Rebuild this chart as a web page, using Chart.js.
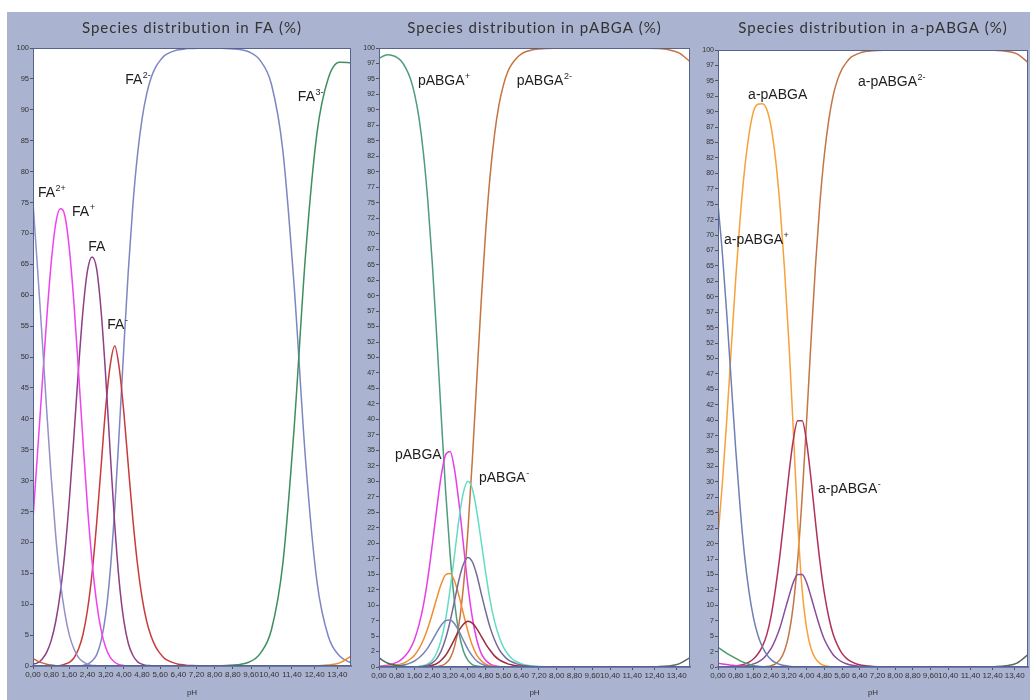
<!DOCTYPE html>
<html>
<head>
<meta charset="utf-8">
<script src="https://cdn.jsdelivr.net/npm/chart.js@4.4.0/dist/chart.umd.min.js"></script>
<style>
  body { margin: 0; width: 1030px; height: 700px; background: #fff; position: relative; overflow: hidden; }
  #frame { position: absolute; left: 7px; top: 12px; width: 1023px; height: 688px; background: #aab3cf; }
  canvas { position: absolute; top: 12px; }
</style>
</head>
<body>
<div id="frame"></div>
<canvas id="chartFA" width="348" height="688" style="left:7px"></canvas>
<canvas id="chartPABGA" width="340" height="688" style="left:355px"></canvas>
<canvas id="chartAPABGA" width="335" height="688" style="left:695px"></canvas>
<script>
// pH grid shared by all three panels
const phGrid = [
  0, 0.2, 0.4, 0.6, 0.8, 1.0, 1.2, 1.4, 1.6, 1.8,
  2.0, 2.2, 2.4, 2.6, 2.8, 3.0, 3.2, 3.4, 3.6, 3.8,
  4.0, 4.2, 4.4, 4.6, 4.8, 5.0, 5.2, 5.4, 5.6, 5.8,
  6.0, 6.2, 6.4, 6.6, 6.8, 7.0, 7.5, 8.0, 8.5, 9.0,
  9.5, 10.0, 10.5, 11.0, 11.5, 12.0, 12.5, 13.0, 13.5, 14.0
];

const xTickValues = [0, 0.8, 1.6, 2.4, 3.2, 4.0, 4.8, 5.6, 6.4, 7.2, 8.0, 8.8, 9.6, 10.4, 11.4, 12.4, 13.4];

const titles = [
  'Species distribution in FA (%)',
  'Species distribution in pABGA (%)',
  'Species distribution in a-pABGA (%)'
];

// ---- FA ----
const faH3 = [
  1.2, 0.8, 0.5, 0.3, 0.15, 0.05, 0, 0, 0, 0,
  0, 0, 0, 0, 0, 0, 0, 0, 0, 0,
  0, 0, 0, 0, 0, 0, 0, 0, 0, 0,
  0, 0, 0, 0, 0, 0, 0, 0, 0, 0,
  0, 0, 0, 0, 0, 0, 0, 0, 0, 0
];
const faH2 = [
  75.0, 64.3, 53.2, 41.5, 30.6, 21.1, 13.8, 8.6, 5.0, 2.8,
  1.4, 0.7, 0.3, 0.1, 0.05, 0, 0, 0, 0, 0,
  0, 0, 0, 0, 0, 0, 0, 0, 0, 0,
  0, 0, 0, 0, 0, 0, 0, 0, 0, 0,
  0, 0, 0, 0, 0, 0, 0, 0, 0, 0
];
const faH = [
  23.8, 34.5, 45.3, 56.0, 65.2, 71.6, 74.0, 72.9, 67.5, 58.8,
  47.9, 36.4, 25.7, 16.9, 10.3, 5.8, 3.0, 1.4, 0.6, 0.2,
  0.1, 0, 0, 0, 0, 0, 0, 0, 0, 0,
  0, 0, 0, 0, 0, 0, 0, 0, 0, 0,
  0, 0, 0, 0, 0, 0, 0, 0, 0, 0
];
const fa0 = [
  0.3, 0.5, 1.1, 2.2, 4.1, 7.2, 11.8, 18.3, 26.9, 37.1,
  47.9, 57.5, 64.0, 66.2, 64.3, 57.4, 46.9, 34.5, 22.8, 13.5,
  7.3, 3.6, 1.7, 0.7, 0.3, 0.1, 0.05, 0, 0, 0,
  0, 0, 0, 0, 0, 0, 0, 0, 0, 0,
  0, 0, 0, 0, 0, 0, 0, 0, 0, 0
];
const faM = [
  0, 0, 0, 0, 0, 0, 0.1, 0.3, 0.6, 1.3,
  2.7, 5.1, 9.1, 15.0, 23.0, 32.4, 41.8, 48.7, 51.8, 48.1,
  41.0, 32.2, 23.6, 16.5, 11.1, 7.3, 4.8, 3.1, 2.0, 1.2,
  0.8, 0.5, 0.3, 0.2, 0.1, 0.1, 0, 0, 0, 0,
  0, 0, 0, 0, 0, 0, 0, 0, 0, 0
];
const faM2 = [
  0, 0, 0, 0, 0, 0, 0, 0, 0, 0,
  0, 0.1, 0.3, 0.8, 1.8, 4.1, 8.3, 15.4, 25.6, 38.2,
  51.6, 64.2, 74.7, 82.7, 88.5, 92.5, 95.2, 96.9, 98.0, 98.8,
  99.2, 99.5, 99.7, 99.8, 99.9, 99.9, 100, 100, 99.9, 99.8,
  99.4, 98.0, 94.1, 83.4, 61.3, 33.3, 13.7, 4.8, 1.6, 0.5
];
const faM3 = [
  0, 0, 0, 0, 0, 0, 0, 0, 0, 0,
  0, 0, 0, 0, 0, 0, 0, 0, 0, 0,
  0, 0, 0, 0, 0, 0, 0, 0, 0, 0,
  0, 0, 0, 0, 0, 0, 0, 0, 0.1, 0.2,
  0.6, 2.0, 5.9, 16.6, 38.7, 66.6, 86.2, 95.1, 97.7, 97.6
];
const faM4 = [
  0, 0, 0, 0, 0, 0, 0, 0, 0, 0,
  0, 0, 0, 0, 0, 0, 0, 0, 0, 0,
  0, 0, 0, 0, 0, 0, 0, 0, 0, 0,
  0, 0, 0, 0, 0, 0, 0, 0, 0, 0,
  0, 0, 0, 0, 0, 0, 0.04, 0.15, 0.5, 1.6
];

// ---- pABGA ----
const pH2p = [
  1.5, 1.0, 0.6, 0.4, 0.25, 0.16, 0.1, 0.06, 0.04, 0.02,
  0.01, 0, 0, 0, 0, 0, 0, 0, 0, 0,
  0, 0, 0, 0, 0, 0, 0, 0, 0, 0,
  0, 0, 0, 0, 0, 0, 0, 0, 0, 0,
  0, 0, 0, 0, 0, 0, 0, 0, 0, 0
];
const pHp = [
  98.3, 98.7, 98.9, 98.8, 98.5, 97.9, 96.8, 95.2, 92.6, 88.7,
  83.0, 75.2, 65.2, 53.3, 40.6, 28.4, 18.2, 10.5, 5.5, 2.6,
  1.1, 0.4, 0.15, 0.05, 0, 0, 0, 0, 0, 0,
  0, 0, 0, 0, 0, 0, 0, 0, 0, 0,
  0, 0, 0, 0, 0, 0, 0, 0, 0, 0
];
const pN1 = [
  0.1, 0.2, 0.3, 0.5, 0.75, 1.2, 1.9, 2.9, 4.5, 6.8,
  10.0, 14.4, 19.8, 25.6, 30.9, 34.3, 34.8, 31.9, 26.5, 19.8,
  13.2, 8.0, 4.4, 2.2, 1.1, 0.5, 0.2, 0.1, 0, 0,
  0, 0, 0, 0, 0, 0, 0, 0, 0, 0,
  0, 0, 0, 0, 0, 0, 0, 0, 0, 0
];
const pN2 = [
  0.05, 0.08, 0.13, 0.2, 0.33, 0.5, 0.8, 1.25, 1.9, 2.95,
  4.4, 6.3, 8.6, 11.1, 13.4, 14.9, 15.1, 13.9, 11.5, 8.6,
  5.8, 3.5, 1.9, 1.0, 0.46, 0.2, 0.1, 0.04, 0, 0,
  0, 0, 0, 0, 0, 0, 0, 0, 0, 0,
  0, 0, 0, 0, 0, 0, 0, 0, 0, 0
];
const pN3 = [
  0.03, 0.04, 0.07, 0.1, 0.16, 0.26, 0.4, 0.63, 0.97, 1.5,
  2.2, 3.1, 4.3, 5.6, 6.75, 7.5, 7.6, 7.0, 5.8, 4.3,
  2.9, 1.8, 0.96, 0.5, 0.23, 0.1, 0.04, 0.02, 0, 0,
  0, 0, 0, 0, 0, 0, 0, 0, 0, 0,
  0, 0, 0, 0, 0, 0, 0, 0, 0, 0
];
const pA1 = [
  0, 0, 0, 0, 0, 0, 0, 0.02, 0.04, 0.1,
  0.23, 0.52, 1.1, 2.3, 4.4, 7.7, 12.5, 18.1, 23.9, 28.2,
  30.0, 28.8, 25.2, 20.3, 15.3, 10.8, 7.4, 4.95, 3.2, 2.1,
  1.3, 0.85, 0.54, 0.34, 0.22, 0.14, 0.04, 0.01, 0, 0,
  0, 0, 0, 0, 0, 0, 0, 0, 0, 0
];
const pA2 = [
  0, 0, 0, 0, 0, 0, 0, 0.01, 0.02, 0.06,
  0.13, 0.3, 0.66, 1.35, 2.6, 4.6, 7.35, 10.7, 14.1, 16.6,
  17.7, 17.0, 14.9, 11.9, 9.0, 6.4, 4.4, 2.9, 1.9, 1.2,
  0.8, 0.5, 0.32, 0.2, 0.13, 0.08, 0.03, 0.01, 0, 0,
  0, 0, 0, 0, 0, 0, 0, 0, 0, 0
];
const pA3 = [
  0, 0, 0, 0, 0, 0, 0, 0, 0, 0,
  0.06, 0.13, 0.28, 0.56, 1.1, 1.9, 3.1, 4.5, 5.9, 6.9,
  7.4, 7.1, 6.2, 5.0, 3.75, 2.7, 1.8, 1.2, 0.8, 0.5,
  0.33, 0.21, 0.13, 0.08, 0.05, 0.03, 0.01, 0, 0, 0,
  0, 0, 0, 0, 0, 0, 0, 0, 0, 0
];
const pM2 = [
  0, 0, 0, 0, 0, 0, 0, 0, 0, 0,
  0, 0.01, 0.02, 0.07, 0.2, 0.57, 1.4, 3.3, 6.9, 13.0,
  21.9, 33.4, 46.3, 59.0, 70.3, 79.3, 86.0, 90.8, 94.0, 96.2,
  97.5, 98.4, 99.0, 99.4, 99.6, 99.75, 99.9, 100, 100, 100,
  100, 100, 100, 100, 99.99, 99.97, 99.92, 99.75, 99.2, 97.8
];
const pM3 = [
  0, 0, 0, 0, 0, 0, 0, 0, 0, 0,
  0, 0, 0, 0, 0, 0, 0, 0, 0, 0,
  0, 0, 0, 0, 0, 0, 0, 0, 0, 0,
  0, 0, 0, 0, 0, 0, 0, 0, 0, 0,
  0, 0, 0, 0, 0, 0, 0.05, 0.15, 0.5, 1.5
];

// ---- a-pABGA ----
const aH2p = [
  3.2, 2.7, 2.2, 1.8, 1.4, 1.0, 0.7, 0.45, 0.25, 0.12,
  0.05, 0.02, 0, 0, 0, 0, 0, 0, 0, 0,
  0, 0, 0, 0, 0, 0, 0, 0, 0, 0,
  0, 0, 0, 0, 0, 0, 0, 0, 0, 0,
  0, 0, 0, 0, 0, 0, 0, 0, 0, 0
];
const aMinor = [
  0.6, 0.5, 0.4, 0.3, 0.2, 0.15, 0.1, 0.05, 0.02, 0,
  0, 0, 0, 0, 0, 0, 0, 0, 0, 0,
  0, 0, 0, 0, 0, 0, 0, 0, 0, 0,
  0, 0, 0, 0, 0, 0, 0, 0, 0, 0,
  0, 0, 0, 0, 0, 0, 0, 0, 0, 0
];
const aHp = [
  75.0, 66.9, 57.0, 46.1, 35.3, 25.8, 18.0, 12.2, 8.0, 5.2,
  3.3, 2.0, 1.2, 0.7, 0.4, 0.23, 0.12, 0.06, 0.03, 0.01,
  0, 0, 0, 0, 0, 0, 0, 0, 0, 0,
  0, 0, 0, 0, 0, 0, 0, 0, 0, 0,
  0, 0, 0, 0, 0, 0, 0, 0, 0, 0
];
const aN = [
  21.2, 29.9, 40.3, 51.7, 62.9, 72.7, 80.6, 86.3, 90.0, 91.2,
  91.3, 90.4, 87.5, 82.3, 74.7, 64.7, 52.7, 38.5, 23.5, 12.5,
  6.3, 3.0, 1.4, 0.6, 0.25, 0.1, 0.04, 0, 0, 0,
  0, 0, 0, 0, 0, 0, 0, 0, 0, 0,
  0, 0, 0, 0, 0, 0, 0, 0, 0, 0
];
const aA1 = [
  0, 0, 0, 0.07, 0.15, 0.27, 0.47, 0.8, 1.3, 2.1,
  3.3, 5.2, 8.3, 12.8, 18.2, 24.6, 31.2, 36.8, 39.9, 39.9,
  36.5, 30.5, 23.6, 17.2, 12.0, 8.1, 5.3, 3.5, 2.2, 1.4,
  0.9, 0.57, 0.36, 0.23, 0.15, 0.09, 0.03, 0.01, 0, 0,
  0, 0, 0, 0, 0, 0, 0, 0, 0, 0
];
const aA2 = [
  0, 0, 0, 0.03, 0.05, 0.1, 0.18, 0.3, 0.5, 0.8,
  1.26, 2.0, 3.0, 4.5, 6.4, 8.9, 11.4, 13.7, 15.0, 15.0,
  13.7, 11.4, 8.9, 6.5, 4.5, 3.1, 2.0, 1.3, 0.84, 0.54,
  0.34, 0.22, 0.14, 0.09, 0.05, 0.04, 0.01, 0, 0, 0,
  0, 0, 0, 0, 0, 0, 0, 0, 0, 0
];
const aM2 = [
  0, 0, 0, 0, 0, 0, 0, 0, 0, 0,
  0.04, 0.09, 0.22, 0.52, 1.2, 2.6, 5.3, 10.0, 17.4, 27.6,
  39.8, 52.8, 64.9, 75.1, 82.9, 88.6, 92.6, 95.2, 96.9, 98.0,
  98.8, 99.2, 99.5, 99.7, 99.8, 99.87, 99.96, 100, 100, 100,
  100, 100, 100, 100, 100, 99.98, 99.94, 99.8, 99.37, 98.0
];
const aM3 = [
  0, 0, 0, 0, 0, 0, 0, 0, 0, 0,
  0, 0, 0, 0, 0, 0, 0, 0, 0, 0,
  0, 0, 0, 0, 0, 0, 0, 0, 0, 0,
  0, 0, 0, 0, 0, 0, 0, 0, 0, 0,
  0, 0, 0, 0, 0, 0.02, 0.06, 0.2, 0.63, 2.0
];

// curve labels, in data units (pH, %)
const faLabels = [
  { text: 'FA', sup: '2+', x: 0.22, y: 76.5 },
  { text: 'FA', sup: '+', x: 1.72, y: 73.5 },
  { text: 'FA', sup: '', x: 2.43, y: 67.8 },
  { text: 'FA', sup: '-', x: 3.27, y: 55.2 },
  { text: 'FA', sup: '2-', x: 4.06, y: 94.8 },
  { text: 'FA', sup: '3-', x: 11.66, y: 92.1 }
];
const pLabels = [
  { text: 'pABGA', sup: '+', x: 1.75, y: 94.6 },
  { text: 'pABGA', sup: '2-', x: 6.2, y: 94.6 },
  { text: 'pABGA', sup: '', x: 0.72, y: 34.2 },
  { text: 'pABGA', sup: '-', x: 4.5, y: 30.5 }
];
const aLabels = [
  { text: 'a-pABGA', sup: '', x: 1.36, y: 92.7 },
  { text: 'a-pABGA', sup: '2-', x: 6.32, y: 94.8 },
  { text: 'a-pABGA', sup: '+', x: 0.27, y: 69.2 },
  { text: 'a-pABGA', sup: '-', x: 4.52, y: 28.8 }
];

const tickFont = { family: '"Liberation Sans Narrow", "Liberation Sans", Arial, sans-serif', size: 8 };

function series(values, color) {
  return {
    data: phGrid.map((ph, i) => ({ x: ph, y: values[i] })),
    borderColor: color,
    borderWidth: 1.5,
    pointRadius: 0,
    fill: false,
    cubicInterpolationMode: 'monotone'
  };
}

function decor(title, labels) {
  return {
    id: 'decor',
    beforeDatasetsDraw(chart) {
      const { ctx, chartArea: a } = chart;
      ctx.save();
      ctx.fillStyle = '#ffffff';
      ctx.fillRect(a.left, a.top, a.right - a.left, a.bottom - a.top);
      ctx.restore();
    },
    afterDatasetsDraw(chart) {
      const { ctx, chartArea: a, scales } = chart;
      ctx.save();
      ctx.strokeStyle = '#56628f';
      ctx.lineWidth = 1;
      ctx.strokeRect(a.left + 0.5, a.top + 0.5, a.right - a.left - 1, a.bottom - a.top - 1);

      ctx.fillStyle = '#333333';
      ctx.font = '15px Lato, "Liberation Sans", sans-serif';
      ctx.letterSpacing = '1px';
      ctx.textAlign = 'center';
      ctx.textBaseline = 'middle';
      ctx.fillText(title, (a.left + a.right) / 2, 16);
      ctx.letterSpacing = '0px';

      ctx.fillStyle = '#1e1e1e';
      ctx.textAlign = 'left';
      labels.forEach(l => {
        const px = scales.x.getPixelForValue(l.x);
        const py = scales.y.getPixelForValue(l.y);
        ctx.font = '14px "Liberation Sans", Arial, sans-serif';
        ctx.fillText(l.text, px, py);
        if (l.sup) {
          const w = ctx.measureText(l.text).width;
          ctx.font = '9px "Liberation Sans", Arial, sans-serif';
          ctx.fillText(l.sup, px + w + 0.5, py - 4.5);
        }
      });
      ctx.restore();
    }
  };
}

function makePanel(id, cfg) {
  new Chart(document.getElementById(id), {
    type: 'line',
    data: { datasets: cfg.datasets },
    options: {
      responsive: false,
      animation: false,
      layout: { padding: { left: 0, right: cfg.padRight, top: cfg.padTop, bottom: 0 } },
      plugins: { legend: { display: false }, tooltip: { enabled: false } },
      scales: {
        x: {
          type: 'linear',
          min: 0,
          max: 14,
          afterBuildTicks: scale => { scale.ticks = xTickValues.map(v => ({ value: v })); },
          afterFit: scale => { scale.height = cfg.xHeight; },
          ticks: {
            autoSkip: false,
            maxRotation: 0,
            padding: 1,
            color: '#333',
            font: tickFont,
            callback: v => v.toFixed(2).replace('.', ',')
          },
          grid: { drawOnChartArea: false, drawTicks: true, tickLength: 3, color: '#555' },
          border: { display: true, color: '#6a78aa', width: 2 },
          title: { display: true, text: 'pH', color: '#333', font: { size: 8 }, padding: { top: 0, bottom: 2 } }
        },
        y: {
          min: 0,
          max: 100,
          afterFit: scale => { scale.width = cfg.yWidth; },
          ticks: {
            stepSize: cfg.yStep,
            autoSkip: false,
            padding: 1,
            color: '#333',
            font: { family: tickFont.family, size: cfg.yFont },
            callback: v => Math.floor(v)
          },
          grid: { drawOnChartArea: false, drawTicks: true, tickLength: 3, color: '#555' },
          border: { display: true, color: '#56628f', width: 1 }
        }
      }
    },
    plugins: [decor(cfg.title, cfg.labels)]
  });
}

makePanel('chartFA', {
  title: titles[0],
  labels: faLabels,
  yStep: 5, yFont: 7.5, yWidth: 26, padRight: 4, padTop: 36, xHeight: 34,
  datasets: [
    series(faH3, '#c8643c'),
    series(faM4, '#f08a2c'),
    series(faM3, '#3f8f5e'),
    series(faH2, '#9490c8'),
    series(faH, '#ee44ee'),
    series(fa0, '#8e3f86'),
    series(faM, '#c93a3a'),
    series(faM2, '#7e86c2')
  ]
});

makePanel('chartPABGA', {
  title: titles[1],
  labels: pLabels,
  yStep: 2.5, yFont: 7, yWidth: 24, padRight: 5, padTop: 36, xHeight: 33,
  datasets: [
    series(pH2p, '#4a6a5a'),
    series(pM3, '#5c6a60'),
    series(pN3, '#7683b6'),
    series(pA3, '#9a2c42'),
    series(pA2, '#76699a'),
    series(pN2, '#f28c2e'),
    series(pA1, '#63dcc4'),
    series(pN1, '#e83ee6'),
    series(pHp, '#4f9c7c'),
    series(pM2, '#c4743e')
  ]
});

makePanel('chartAPABGA', {
  title: titles[2],
  labels: aLabels,
  yStep: 2.5, yFont: 7, yWidth: 23, padRight: 2, padTop: 38, xHeight: 33,
  datasets: [
    series(aMinor, '#e040d0'),
    series(aH2p, '#4a9a6a'),
    series(aM3, '#5a6a60'),
    series(aHp, '#6f80b4'),
    series(aA2, '#8a4c9e'),
    series(aA1, '#b0325c'),
    series(aN, '#f7a13a'),
    series(aM2, '#c27646')
  ]
});
</script>
</body>
</html>
